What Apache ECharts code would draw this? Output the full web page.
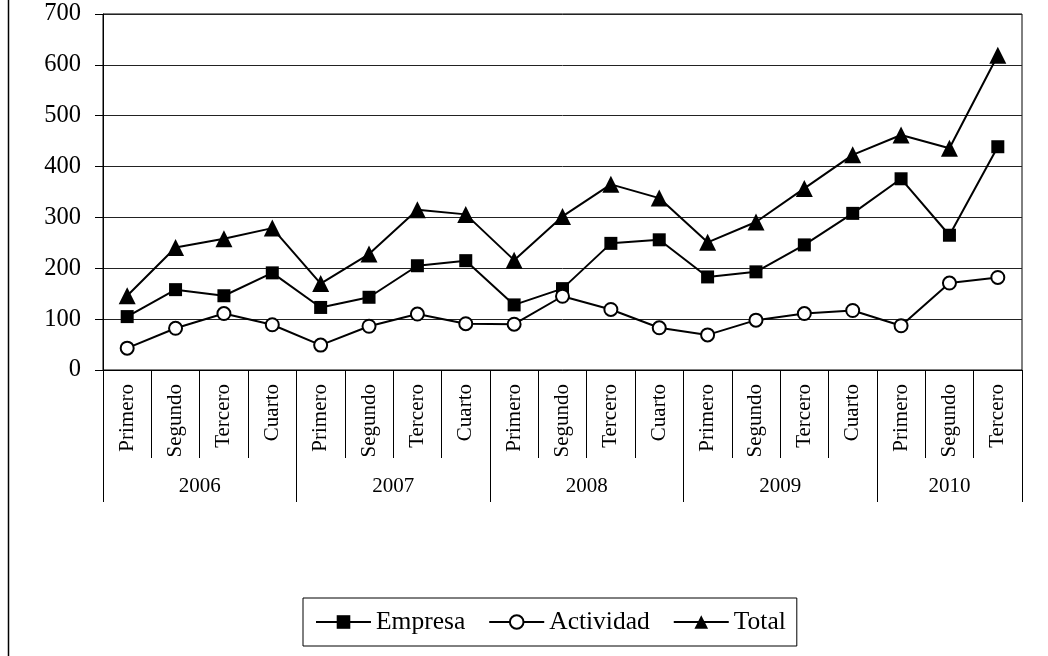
<!DOCTYPE html>
<html>
<head>
<meta charset="utf-8">
<script src="https://cdn.jsdelivr.net/npm/echarts@6/dist/echarts.min.js"></script>
<style>
html,body{margin:0;padding:0;background:#fff;}
#chart{width:1048px;height:656px;}
</style>
</head>
<body>
<div id="chart"></div>
<script>
const years = ['2006', '2007', '2008', '2009', '2010'];
const quartersPerYear = [4, 4, 4, 4, 3];
const quarterLabels = [
  'Primero', 'Segundo', 'Tercero', 'Cuarto',
  'Primero', 'Segundo', 'Tercero', 'Cuarto',
  'Primero', 'Segundo', 'Tercero', 'Cuarto',
  'Primero', 'Segundo', 'Tercero', 'Cuarto',
  'Primero', 'Segundo', 'Tercero'
];
const empresa   = [105, 158, 146, 191, 123, 143, 205, 215, 128, 160, 249, 256, 183, 193, 246, 308, 376, 265, 439];
const actividad = [43, 82, 111, 89, 49, 86, 110, 91, 90, 145, 119, 83, 69, 98, 111, 117, 87, 171, 182];
const total     = [146, 241, 258, 279, 170, 228, 315, 306, 216, 302, 365, 338, 251, 291, 357, 423, 462, 436, 619];
const yTicks = [0, 100, 200, 300, 400, 500, 600, 700];

// Build the half-step year axis (boundaryGap false, 2*N+1 slots)
const nCat = quarterLabels.length;
const yearSlots = new Array(2 * nCat + 1).fill('');
const yearBounds = new Set();
let start = 0;
quartersPerYear.forEach((n, i) => {
  yearBounds.add(2 * start);
  yearSlots[2 * start + n] = years[i];
  start += n;
});
yearBounds.add(2 * start);

const FONT = 'Liberation Serif';
const chart = echarts.init(document.getElementById('chart'), null, {renderer: 'canvas'});
chart.setOption({
  animation: false,
  backgroundColor: '#fff',
  textStyle: {fontFamily: FONT, color: '#000'},
  grid: {
    left: 103, right: 26, top: 14, bottom: 286,
    show: true, borderColor: '#000', borderWidth: 1, backgroundColor: 'transparent'
  },
  graphic: [{
    type: 'line', shape: {x1: 8.5, y1: 0, x2: 8.5, y2: 656},
    style: {stroke: '#000', lineWidth: 1.5}, silent: true
  }],
  legend: {
    data: ['Empresa', 'Actividad', 'Total'],
    left: 303, top: 598,
    orient: 'horizontal',
    borderColor: '#000', borderWidth: 1,
    padding: [11, 11, 11, 12],
    itemWidth: 55, itemHeight: 17, itemGap: 23,
    textStyle: {fontFamily: FONT, fontSize: 25.5, color: '#000'}
  },
  xAxis: [{
    type: 'category',
    data: quarterLabels,
    boundaryGap: true,
    axisLine: {show: true, lineStyle: {color: '#000', width: 1}},
    axisTick: {show: true, interval: 0, length: 88, lineStyle: {color: '#000', width: 1}},
    axisLabel: {interval: 0, rotate: 90, margin: 14, fontFamily: FONT, fontSize: 21, color: '#000'},
    splitLine: {show: false}
  }, {
    type: 'category',
    data: yearSlots,
    boundaryGap: false,
    position: 'bottom',
    axisLine: {show: false},
    axisTick: {show: true, interval: (idx) => yearBounds.has(idx), length: 132, lineStyle: {color: '#000', width: 1}},
    axisLabel: {interval: (idx, val) => val !== '', margin: 106, fontFamily: FONT, fontSize: 21, color: '#000'},
    splitLine: {show: false}
  }],
  yAxis: {
    type: 'value',
    min: yTicks[0], max: yTicks[yTicks.length - 1], interval: 100,
    axisLine: {show: true, lineStyle: {color: '#000', width: 1}},
    axisTick: {show: true, inside: false, length: 8, lineStyle: {color: '#000', width: 1}},
    axisLabel: {margin: 22, fontFamily: FONT, fontSize: 24.5, color: '#000'},
    splitLine: {show: true, lineStyle: {color: '#222', width: 1}}
  },
  series: [{
    name: 'Empresa', type: 'line', data: empresa, xAxisIndex: 0,
    symbol: 'rect', symbolSize: 13,
    lineStyle: {color: '#000', width: 2},
    itemStyle: {color: '#000', borderColor: '#000', borderWidth: 0}
  }, {
    name: 'Actividad', type: 'line', data: actividad, xAxisIndex: 0,
    symbol: 'circle', symbolSize: 13,
    lineStyle: {color: '#000', width: 2},
    itemStyle: {color: '#fff', borderColor: '#000', borderWidth: 2}
  }, {
    name: 'Total', type: 'line', data: total, xAxisIndex: 0,
    symbol: 'triangle', symbolSize: 17,
    lineStyle: {color: '#000', width: 2},
    itemStyle: {color: '#000', borderColor: '#000', borderWidth: 0}
  }]
});
</script>
</body>
</html>
